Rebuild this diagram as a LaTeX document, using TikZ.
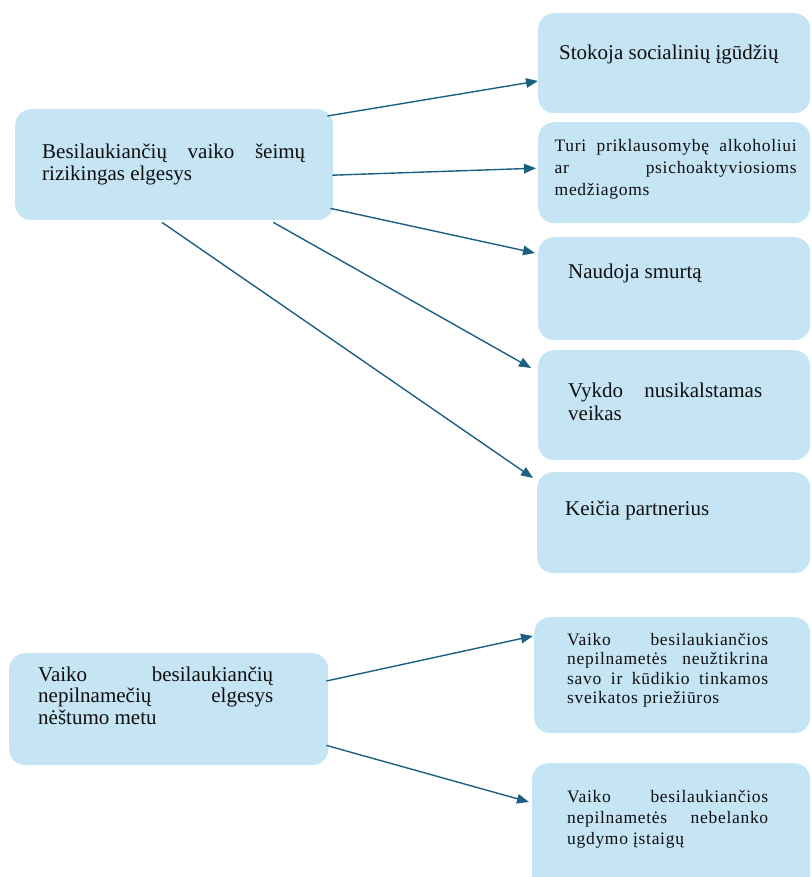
\documentclass[tikz,border=0pt]{standalone}
\usepackage{fontspec}
\setmainfont{Liberation Serif}
\usetikzlibrary{arrows.meta,calc}
\definecolor{boxfill}{RGB}{197,228,244}
\definecolor{arrowblue}{RGB}{28,96,130}
\definecolor{inktext}{RGB}{15,15,15}
\hyphenpenalty=10000 \exhyphenpenalty=10000 \tolerance=10000
\begin{document}
\begin{tikzpicture}[x=1pt,y=-1pt,
  panel/.style={fill=boxfill, draw=none, rounded corners=16pt, inner sep=0pt, anchor=north west},
  bigtext/.style={anchor=base west, inner sep=0pt, text=inktext, font=\fontsize{21}{21.5}\selectfont},
  smalltext/.style={anchor=base west, inner sep=0pt, text=inktext, align=justify,
    font=\fontsize{17.5}{20}\selectfont\addfontfeature{LetterSpace=4}},
  link/.style={draw=arrowblue, line width=1.4pt, -{Triangle[length=12pt,width=9.5pt]}}]

\useasboundingbox (0,0) rectangle (811,877);
\clip (0,0) rectangle (811,877);

% boxes of the upper group
\node[panel, minimum width=318pt, minimum height=111pt] (A) at (15,109) {};
\node[panel, minimum width=272pt, minimum height=100pt] (R1) at (538,13) {};
\node[panel, minimum width=272pt, minimum height=101pt] (R2) at (538,122) {};
\node[panel, minimum width=272pt, minimum height=103pt] (R3) at (538,237) {};
\node[panel, minimum width=272pt, minimum height=110pt] (R4) at (538,350) {};
\node[panel, minimum width=273pt, minimum height=101pt] (R5) at (537,472) {};

% boxes of the lower group
\node[panel, minimum width=319pt, minimum height=112pt] (B) at (9,653) {};
\node[panel, minimum width=276pt, minimum height=116pt] (R6) at (534,617) {};
\node[panel, minimum width=278pt, minimum height=130pt] (R7) at (532,763) {};

% texts
\node[bigtext, text width=263pt, align=justify] (tA) at (42,159)
  {Besilaukiančių vaiko šeimų\linebreak rizikingas elgesys};
\node[bigtext] (t1) at (559,60) {Stokoja socialinių įgūdžių};
\node[smalltext, text width=242pt, font=\fontsize{17.5}{22}\selectfont\addfontfeature{LetterSpace=4}] (t2) at (554.5,152)
  {Turi priklausomybę alkoholiui\linebreak ar psichoaktyviosioms\linebreak medžiagoms};
\node[bigtext] (t3) at (568,278) {Naudoja smurtą};
\node[bigtext, text width=194pt, align=justify, font=\fontsize{21}{23}\selectfont] (t4) at (568,397)
  {Vykdo nusikalstamas\linebreak veikas};
\node[bigtext] (t5) at (565,515) {Keičia partnerius};

\node[bigtext, text width=235pt, align=justify] (tB) at (38,681)
  {Vaiko besilaukiančių\linebreak nepilnamečių elgesys\linebreak nėštumo metu};
\node[smalltext, text width=201pt, font=\fontsize{17.5}{19.5}\selectfont\addfontfeature{LetterSpace=4}] (t6) at (567,645)
  {Vaiko besilaukiančios\linebreak nepilnametės neužtikrina\linebreak savo ir kūdikio tinkamos\linebreak sveikatos priežiūros};
\node[smalltext, text width=201pt, font=\fontsize{17.5}{21}\selectfont\addfontfeature{LetterSpace=4}] (t7) at (567,802)
  {Vaiko besilaukiančios\linebreak nepilnametės nebelanko\linebreak ugdymo įstaigų};

% connectors
\draw[link] ($(A.north east)+(-6,7)$) -- ($(R1.north west)+(0,68)$);
\draw[link] ($(A.east)+(-1,10.5)$) -- ($(R2.west)+(-2,-4.5)$);
\draw[link] ($(A.south east)+(-3,-12)$) -- ($(R3.north west)+(-3,16)$);
\draw[link] ($(A.south east)+(-60,2)$) -- ($(R4.north west)+(-7,18)$);
\draw[link] ($(A.south west)+(147,2)$) -- ($(R5.north west)+(-4,6)$);

\draw[link] ($(B.north east)+(-2,28)$) -- ($(R6.north west)+(-1,19)$);
\draw[link] ($(B.south east)+(-2,-20)$) -- ($(R7.north west)+(-3,39)$);
\end{tikzpicture}
\end{document}
